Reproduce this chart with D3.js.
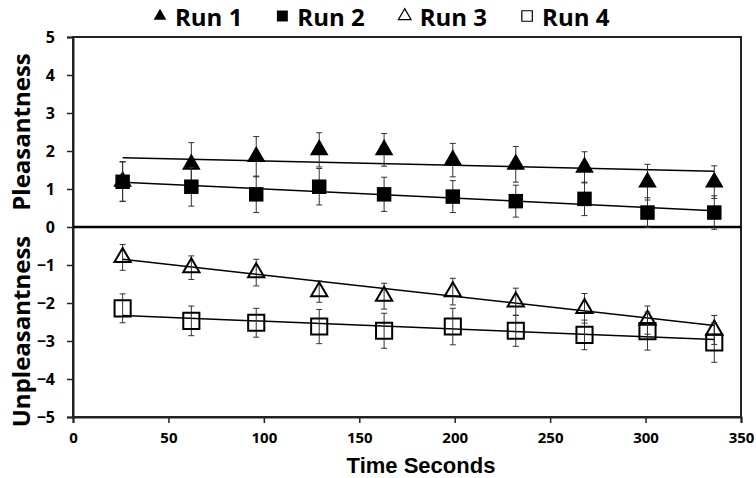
<!DOCTYPE html>
<html lang="en">
<head>
<meta charset="UTF-8">
<title>Pleasantness over time</title>
<style>
    body { margin: 0; background: #fff; }
    svg text { font-family: "Open Sans", "DejaVu Sans", sans-serif; font-weight: bold; fill: #000; }
    .trend { fill: none; stroke: #000; stroke-width: 1.5; }
    .err { stroke: #333; stroke-width: 1; }
    .frame { fill: none; stroke: #222; stroke-width: 2; }
</style>
</head>
<body>
<script src="https://d3js.org/d3.v7.min.js"></script>
<script>

    // data
    var times = [26, 62, 96, 129, 163, 199, 232, 268, 301, 336];
    var run1 = [1.2, 1.65, 1.85, 2.03, 2.03, 1.76, 1.65, 1.57, 1.18, 1.18];
    var err1 = [0.52, 0.57, 0.53, 0.45, 0.43, 0.44, 0.47, 0.41, 0.47, 0.43];
    var run2 = [1.19, 1.06, 0.86, 1.06, 0.86, 0.80, 0.68, 0.74, 0.38, 0.38];
    var err2 = [0.52, 0.51, 0.48, 0.48, 0.45, 0.42, 0.42, 0.44, 0.39, 0.44];
    var run3 = [-0.80, -1.07, -1.20, -1.70, -1.82, -1.70, -1.97, -2.14, -2.45, -2.71];
    var err3 = [0.34, 0.31, 0.35, 0.28, 0.34, 0.35, 0.36, 0.39, 0.37, 0.38];
    var run4 = [-2.14, -2.47, -2.52, -2.62, -2.73, -2.62, -2.73, -2.84, -2.74, -3.04];
    var err4 = [0.38, 0.39, 0.38, 0.45, 0.46, 0.48, 0.41, 0.39, 0.50, 0.52];

    // linear trend lines, start and end value of each run
    var trendTimes = [26, 336];
    var trendStart = [1.82, 1.18, -0.85, -2.33];
    var trendEnd = [1.47, 0.43, -2.59, -2.96];

    var seriesNames = ["Run 1", "Run 2", "Run 3", "Run 4"];
    var xTicks = [0, 50, 100, 150, 200, 250, 300, 350];
    var yTicks = [-5, -4, -3, -2, -1, 0, 1, 2, 3, 4, 5];

    var runs = [run1, run2, run3, run4];
    var errs = [err1, err2, err3, err4];

    // marker look per run
    var markers = [
        {type: d3.symbolTriangle, size: 150, fill: "#000", stroke: "none"},
        {type: d3.symbolSquare, size: 210, fill: "#000", stroke: "none"},
        {type: d3.symbolTriangle, size: 115, fill: "none", stroke: "#000"},
        {type: d3.symbolSquare, size: 260, fill: "none", stroke: "#000"}
    ];

    var margin = {top: 37, right: 15, bottom: 61, left: 73},
        width = 756 - margin.left - margin.right,
        height = 478 - margin.top - margin.bottom;

    var svg = d3.select("body").append("svg")
        .attr("width", 756)
        .attr("height", 478);

    var g = svg.append("g")
        .attr("transform", "translate(" + margin.left + "," + margin.top + ")");

    var x = d3.scaleLinear().domain([0, 350]).range([0, width]);
    var y = d3.scaleLinear().domain([-5, 5]).range([height, 0]);

    // plot box (top and right border)
    g.append("rect")
        .attr("class", "frame")
        .attr("width", width)
        .attr("height", height);

    // axes
    var xAxis = g.append("g")
        .attr("transform", "translate(0," + height + ")")
        .call(d3.axisBottom(x).tickValues(xTicks).tickSize(6).tickPadding(9));
    var yAxis = g.append("g")
        .call(d3.axisLeft(y).tickValues(yTicks).tickSize(6).tickPadding(12));

    [xAxis, yAxis].forEach(function(a) {
        a.select(".domain").attr("stroke", "#222").attr("stroke-width", 2);
        a.selectAll(".tick line").attr("stroke", "#222").attr("stroke-width", 1.5);
    });
    xAxis.selectAll(".tick text").style("font-size", "15px");
    yAxis.selectAll(".tick text").style("font-size", "16px");

    // zero line
    g.append("line")
        .attr("x1", 0).attr("x2", width)
        .attr("y1", y(0)).attr("y2", y(0))
        .attr("stroke", "#000")
        .attr("stroke-width", 2.5);

    // trend lines
    var line = d3.line()
        .x(function(d) { return x(d[0]); })
        .y(function(d) { return y(d[1]); });

    runs.forEach(function(vals, k) {
        g.append("path")
            .attr("class", "trend")
            .attr("d", line([[trendTimes[0], trendStart[k]], [trendTimes[1], trendEnd[k]]]));
    });

    // error bars and markers
    runs.forEach(function(vals, k) {
        var pts = vals.map(function(v, i) { return {t: times[i], v: v, e: errs[k][i]}; });
        var eb = g.append("g");
        eb.selectAll(".stem").data(pts).enter().append("line")
            .attr("class", "err")
            .attr("x1", function(d) { return x(d.t); })
            .attr("x2", function(d) { return x(d.t); })
            .attr("y1", function(d) { return y(d.v + d.e); })
            .attr("y2", function(d) { return y(d.v - d.e); });
        [1, -1].forEach(function(s) {
            eb.selectAll(".cap" + s).data(pts).enter().append("line")
                .attr("class", "err")
                .attr("x1", function(d) { return x(d.t) - 3; })
                .attr("x2", function(d) { return x(d.t) + 3; })
                .attr("y1", function(d) { return y(d.v + s * d.e); })
                .attr("y2", function(d) { return y(d.v + s * d.e); });
        });

        var m = markers[k];
        g.append("g").selectAll("path").data(pts).enter().append("path")
            .attr("d", d3.symbol().type(m.type).size(m.size))
            .attr("transform", function(d) { return "translate(" + x(d.t) + "," + y(d.v) + ")"; })
            .attr("fill", m.fill)
            .attr("stroke", m.stroke)
            .attr("stroke-width", 2);
    });

    // axis titles
    svg.append("text")
        .attr("x", 421)
        .attr("y", 473)
        .attr("text-anchor", "middle")
        .style("font-family", "'Liberation Sans', Arial, sans-serif")
        .style("font-size", "22px")
        .text("Time Seconds");

    svg.append("text")
        .attr("transform", "translate(30," + (margin.top + y(2.5)) + ") rotate(-90)")
        .attr("text-anchor", "middle")
        .style("font-size", "24px")
        .text("Pleasantness");

    svg.append("text")
        .attr("transform", "translate(30," + (margin.top + y(-2.75)) + ") rotate(-90)")
        .attr("text-anchor", "middle")
        .style("font-size", "24px")
        .text("Unpleasantness");

    // legend
    var legendMarkers = [
        {type: d3.symbolTriangle, size: 70, fill: "#000", stroke: "none"},
        {type: d3.symbolSquare, size: 120, fill: "#000", stroke: "none"},
        {type: d3.symbolTriangle, size: 70, fill: "none", stroke: "#000"},
        {type: d3.symbolSquare, size: 110, fill: "none", stroke: "#000"}
    ];
    var legend = svg.append("g");
    var lx = 160;
    seriesNames.forEach(function(name, k) {
        var m = legendMarkers[k];
        legend.append("path")
            .attr("d", d3.symbol().type(m.type).size(m.size))
            .attr("transform", "translate(" + lx + ",16)")
            .attr("fill", m.fill)
            .attr("stroke", m.stroke)
            .attr("stroke-width", 1.2);
        var t = legend.append("text")
            .attr("x", lx + 15)
            .attr("y", 26)
            .style("font-size", "24px")
            .text(name);
        lx += 15 + t.node().getComputedTextLength() + 40;
    });

</script>
</body>
</html>
